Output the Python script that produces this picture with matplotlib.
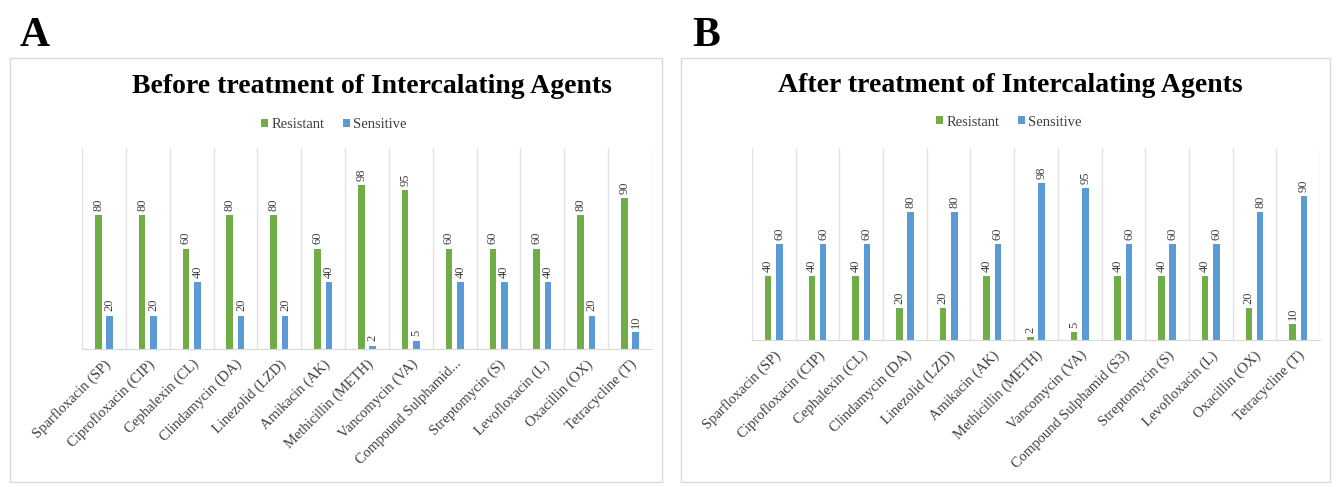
import numpy as np
import matplotlib
matplotlib.use("Agg")
import matplotlib.pyplot as plt
from matplotlib.patches import Rectangle

plt.rcParams['font.family'] = ['Liberation Serif', 'DejaVu Serif']

# data
labels_a = ['Sparfloxacin (SP)', 'Ciprofloxacin (CIP)', 'Cephalexin (CL)', 'Clindamycin (DA)',
            'Linezolid (LZD)', 'Amikacin (AK)', 'Methicillin (METH)', 'Vancomycin (VA)',
            'Compound Sulphamid...', 'Streptomycin (S)', 'Levofloxacin (L)', 'Oxacillin (OX)',
            'Tetracycline (T)']
labels_b = labels_a[:8] + ['Compound Sulphamid (S3)'] + labels_a[9:]

resistant_before = [80, 80, 60, 80, 80, 60, 98, 95, 60, 60, 60, 80, 90]
sensitive_before = [20, 20, 40, 20, 20, 40, 2, 5, 40, 40, 40, 20, 10]
resistant_after = [40, 40, 40, 20, 20, 40, 2, 5, 40, 40, 40, 20, 10]
sensitive_after = [60, 60, 60, 80, 80, 60, 98, 95, 60, 60, 60, 80, 90]

GREEN = '#70AD47'
BLUE = '#5B9BD5'
GRID = '#e3e3e3'


def draw_panel(ax, resistant, sensitive, labels):
    '''draw one clustered bar panel in the excel look'''
    x = np.arange(len(labels))
    b1 = ax.bar(x - 0.13, resistant, width=0.15, color=GREEN, label='Resistant')
    b2 = ax.bar(x + 0.13, sensitive, width=0.15, color=BLUE, label='Sensitive')
    for bars in (b1, b2):
        ax.bar_label(bars, rotation=90, padding=3, fontsize=9, color='#404040')
    ax.set_xlim(-0.5, len(labels) - 0.5)
    ax.set_ylim(0, 120)
    ax.set_xticks(x)
    ax.set_xticklabels(labels, rotation=45, ha='right', rotation_mode='anchor',
                       fontsize=10.5, color='#404040')
    ax.set_xticks(np.arange(-0.5, len(labels)), minor=True)
    ax.grid(which='minor', axis='x', color=GRID, linewidth=1)
    ax.tick_params(which='both', length=0, pad=6)
    ax.set_yticks([])
    for side in ('top', 'left', 'right'):
        ax.spines[side].set_visible(False)
    ax.spines['bottom'].set_color('#d9d9d9')
    ax.set_axisbelow(True)
    return b1, b2


fig = plt.figure(figsize=(13.36, 4.87), dpi=100)

# panel frames
fig.patches.append(Rectangle((10 / 1336, 1 - 482 / 487), 652 / 1336, 424 / 487,
                             transform=fig.transFigure, fill=False,
                             edgecolor='#d9d9d9', linewidth=1))
fig.patches.append(Rectangle((681 / 1336, 1 - 482 / 487), 649 / 1336, 424 / 487,
                             transform=fig.transFigure, fill=False,
                             edgecolor='#d9d9d9', linewidth=1))

ax_a = fig.add_axes([82 / 1336, 1 - 349 / 487, 570 / 1336, 201 / 487])
ax_b = fig.add_axes([752 / 1336, 1 - 340 / 487, 568 / 1336, 192 / 487])

h_a = draw_panel(ax_a, resistant_before, sensitive_before, labels_a)
h_b = draw_panel(ax_b, resistant_after, sensitive_after, labels_b)

fig.text(372 / 1336, 1 - 86 / 487, 'Before treatment of Intercalating Agents',
         ha='center', va='center', fontsize=20, fontweight='bold')
fig.text(1010 / 1336, 1 - 85 / 487, 'After treatment of Intercalating Agents',
         ha='center', va='center', fontsize=20, fontweight='bold')

for handles, cx, cy in ((h_a, 334 / 1336, 1 - 125 / 487), (h_b, 1009 / 1336, 1 - 122 / 487)):
    fig.legend(handles, ['Resistant', 'Sensitive'], loc='center', bbox_to_anchor=(cx, cy),
               ncol=2, frameon=False, fontsize=10.5, handlelength=0.5, handleheight=0.5,
               handletextpad=0.25, columnspacing=1.2, labelcolor='#404040')

fig.text(20 / 1336, 1 - 36 / 487, 'A', fontsize=30, fontweight='bold', va='center')
fig.text(692 / 1336, 1 - 36 / 487, 'B', fontsize=30, fontweight='bold', va='center')

fig.savefig('out.png', dpi=100)
